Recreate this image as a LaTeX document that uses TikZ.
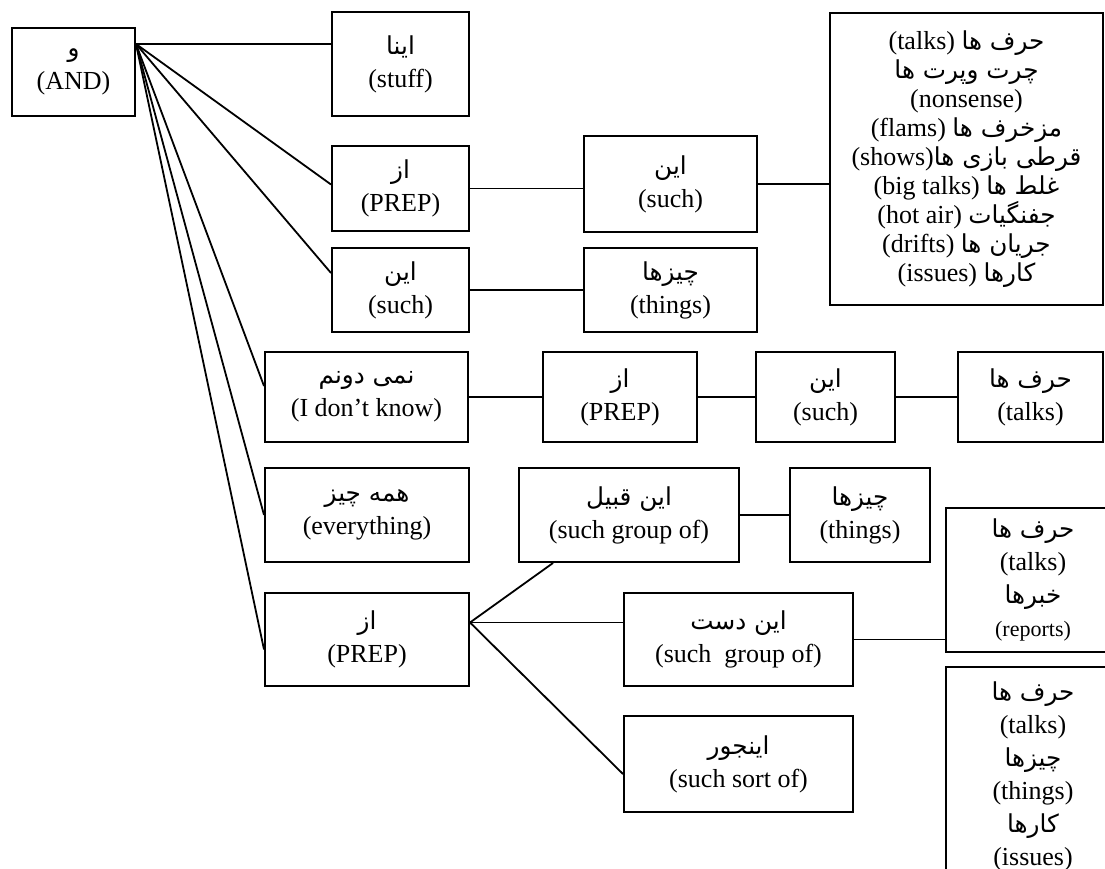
\documentclass[tikz,border=0pt]{standalone}
\usepackage{fontspec}
\setmainfont{Liberation Serif}
\newfontfamily\persianfont[Script=Arabic,Scale=0.95]{DejaVu Sans}
\TeXXeTstate=1
\usetikzlibrary{calc}
\tikzset{wordbox/.style={draw,line width=2pt,align=center,inner sep=0pt,font=\fontsize{26}{33}\selectfont}}
\tikzset{listbox/.style={wordbox,font=\fontsize{26}{29}\selectfont}}
\tikzset{link/.style={line width=1.8pt}}
\newcommand\fatxt[1]{{\persianfont\beginR #1\endR}}

\begin{document}
\begin{tikzpicture}[x=1pt,y=-1pt]
        \clip (0,0) rectangle (1105,869);

        \def\wordnode#1#2#3#4#5#6{\node[wordbox,minimum width={#4-#2},minimum height={#5-#3}] (#1) at ({(#2+#4)/2},{(#3+#5)/2}) {#6};}

        % FIRST COLUMN
        \wordnode{AND}{12}{28}{135}{116}{\fatxt{و}\\(AND)}

        % UPPER BRANCHES
        \wordnode{stuff}{332}{12}{469}{116}{\fatxt{اینا}\\(stuff)}
        \wordnode{prepA}{332}{146}{469}{231}{\fatxt{از}\\(PREP)}
        \wordnode{suchA}{332}{248}{469}{332}{\fatxt{این}\\(such)}
        \wordnode{suchB}{584}{136}{757}{232}{\fatxt{این}\\(such)}
        \wordnode{thingsA}{584}{248}{757}{332}{\fatxt{چیزها}\\(things)}
        \node[listbox,minimum width=273,minimum height=292] (talklist) at (966.5,159) {(talks) \fatxt{حرف ها}\\
            \fatxt{چرت وپرت ها}\\
            (nonsense)\\
            (flams) \fatxt{مزخرف ها}\\
            (shows)\fatxt{قرطی بازی ها}\\
            (big talks) \fatxt{غلط ها}\\
            (hot air) \fatxt{جفنگیات}\\
            (drifts) \fatxt{جریان ها}\\
            (issues) \fatxt{کارها}};

        % LOWER BRANCHES
        \wordnode{idk}{265}{352}{468}{442}{\fatxt{نمی دونم}\\(I don’t know)}
        \wordnode{prepB}{543}{352}{697}{442}{\fatxt{از}\\(PREP)}
        \wordnode{suchC}{756}{352}{895}{442}{\fatxt{این}\\(such)}
        \wordnode{talksA}{958}{352}{1103}{442}{\fatxt{حرف ها}\\(talks)}
        \wordnode{every}{265}{468}{469}{562}{\fatxt{همه چیز}\\(everything)}
        \wordnode{groupA}{519}{468}{739}{562}{\fatxt{این قبیل}\\(such group of)}
        \wordnode{thingsB}{790}{468}{930}{562}{\fatxt{چیزها}\\(things)}
        \wordnode{prepC}{265}{593}{469}{686}{\fatxt{از}\\(PREP)}
        \wordnode{groupB}{624}{593}{853}{686}{\fatxt{این دست}\\(such\ \ group of)}
        \wordnode{sortA}{624}{716}{853}{812}{\fatxt{اینجور}\\(such sort of)}
        \wordnode{reports}{946}{508}{1120}{652}{\fatxt{حرف ها}\\(talks)\\\fatxt{خبرها}\\{\fontsize{22}{33}\selectfont(reports)}}
        \wordnode{issues}{946}{667}{1120}{885}{\fatxt{حرف ها}\\(talks)\\\fatxt{چیزها}\\(things)\\\fatxt{کارها}\\(issues)}

        % LINKS
        \coordinate (hub) at ([yshift=-17pt]AND.north east);
        \draw[link] (hub) -- (hub -| stuff.west);
        \draw[link] (hub) -- ([yshift=4pt]prepA.west);
        \draw[link] (hub) -- ([yshift=17pt]suchA.west);
        \draw[link] (hub) -- ([yshift=11pt]idk.west);
        \draw[link] (hub) -- (every.west);
        \draw[link] (hub) -- ([yshift=-10pt]prepC.west);

        \draw[link] (prepA.east) -- (prepA.east -| suchB.west);
        \draw[link] (suchB.east) -- (suchB.east -| talklist.west);
        \draw[link] (suchA) -- (thingsA);
        \draw[link] (idk) -- (prepB) -- (suchC) -- (talksA);
        \draw[link] (groupA) -- (thingsB);

        \coordinate (fork) at ([yshift=17pt]prepC.east);
        \draw[link] (fork) -- ([xshift=35pt]groupA.south west);
        \draw[link] (fork) -- (fork -| groupB.west);
        \draw[link] (fork) -- ([yshift=-10pt]sortA.west);
        \draw[link] (groupB.east) -- (groupB.east -| reports.west);

\end{tikzpicture}
\end{document}
